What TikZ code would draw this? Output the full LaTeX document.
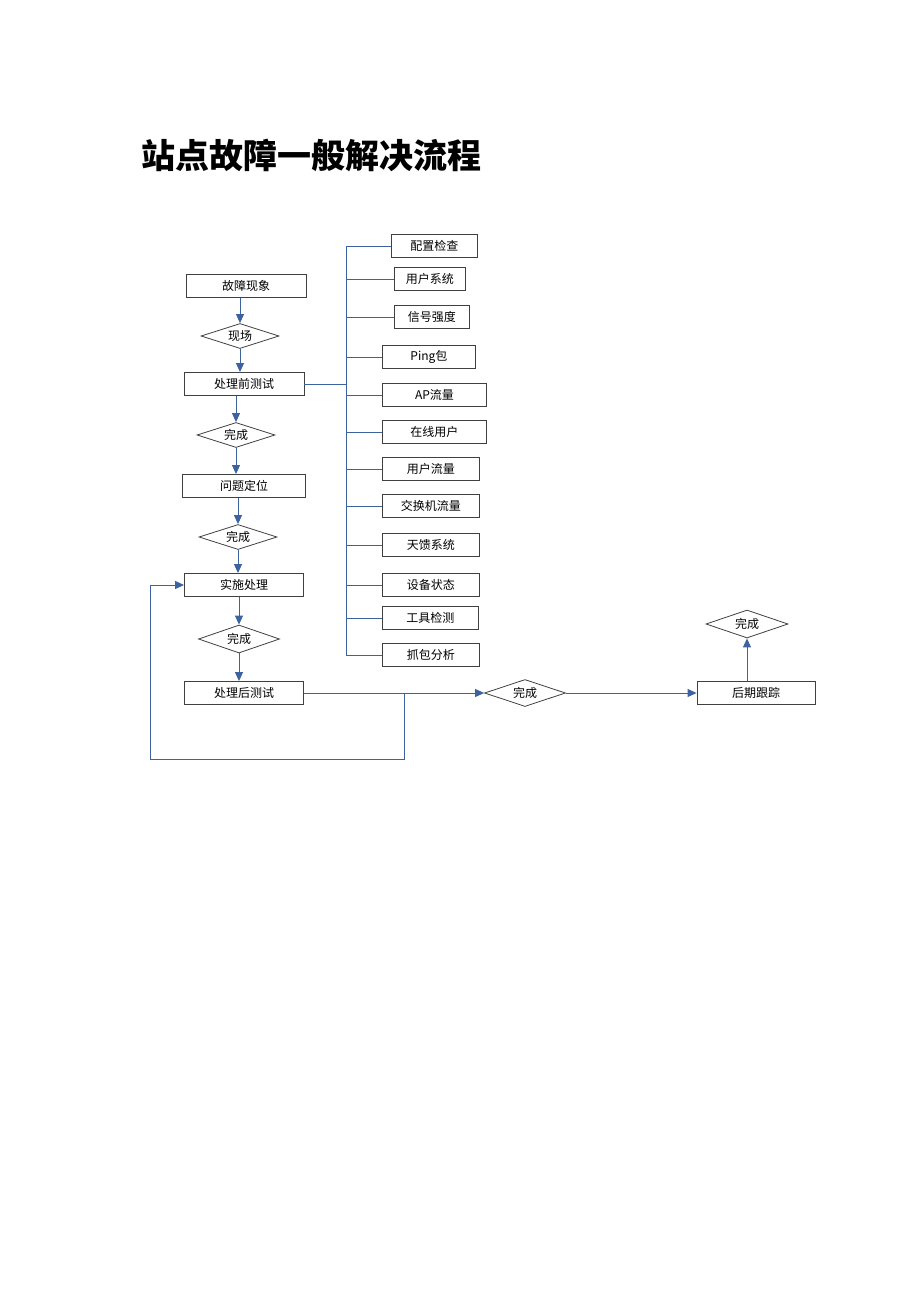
\documentclass[tikz,border=0pt]{standalone}
\usepackage{fontspec}
\setmainfont{Liberation Sans}
\newfontfamily\cjk{Noto Sans CJK SC}
\usetikzlibrary{arrows.meta,shapes.geometric}
\definecolor{linkblue}{HTML}{3D62A0}
\definecolor{edgegray}{HTML}{404040}

\begin{document}
\begin{tikzpicture}[x=1pt, y=-1pt,
    box/.style={draw=edgegray, line width=0.9pt, rectangle, minimum height=23pt, inner sep=0pt, font=\cjk\fontsize{12}{14}\selectfont},
    choice/.style={draw=edgegray, line width=0.8pt, diamond, aspect=3, minimum width=78pt, minimum height=25pt, inner sep=0pt, font=\cjk\fontsize{12}{14}\selectfont},
    link/.style={draw=linkblue, line width=0.9pt},
    flow/.style={link, -{Triangle[length=9pt, width=8pt]}}]
    \useasboundingbox (0,0) rectangle (920,1302);
    \node [anchor=west, font=\cjk\bfseries\fontsize{34}{40}\selectfont] (title) at (138,155) {站点故障一般解决流程};

    % main column
    \node [box, minimum width=120pt] (guzhang) at (246,286) {故障现象};
    \node [choice] (xianchang) at (240,336) {现场};
    \node [box, minimum width=120pt] (qiance) at (244,384) {处理前测试};
    \node [choice] (wancheng1) at (236,435) {完成};
    \node [box, minimum width=123pt] (dingwei) at (244,486) {问题定位};
    \node [choice] (wancheng2) at (238,537) {完成};
    \node [box, minimum width=119pt] (shishi) at (244,585) {实施处理};
    \node [choice, minimum width=81pt, minimum height=28pt] (wancheng3) at (239,639) {完成};
    \node [box, minimum width=119pt] (houce) at (244,693) {处理后测试};
    \node [choice, minimum width=81pt, minimum height=27pt] (wancheng4) at (525,693) {完成};
    \node [box, minimum width=118pt] (genzong) at (756,693) {后期跟踪};
    \node [choice, minimum width=82pt, minimum height=28pt] (wancheng5) at (747,624) {完成};

    % checks
    \node [box, minimum width=86pt, anchor=west] (peizhi) at (391,246) {配置检查};
    \node [box, minimum width=71pt, anchor=west] (yonghuxt) at (394,279) {用户系统};
    \node [box, minimum width=75pt, anchor=west] (xinhao) at (394,317) {信号强度};
    \node [box, minimum width=93pt, anchor=west] (ping) at (382,357) {Ping包};
    \node [box, minimum width=104pt, anchor=west] (apliu) at (382,395) {AP流量};
    \node [box, minimum width=104pt, anchor=west] (zaixian) at (382,432) {在线用户};
    \node [box, minimum width=97pt, anchor=west] (yonghull) at (382,469) {用户流量};
    \node [box, minimum width=97pt, anchor=west] (jiaohuan) at (382,506) {交换机流量};
    \node [box, minimum width=97pt, anchor=west] (tiankui) at (382,545) {天馈系统};
    \node [box, minimum width=97pt, anchor=west] (shebei) at (382,585) {设备状态};
    \node [box, minimum width=96pt, anchor=west] (gongju) at (382,618) {工具检测};
    \node [box, minimum width=97pt, anchor=west] (zhuabao) at (382,655) {抓包分析};

    % arrows down the main column
    \draw [flow] (guzhang.south -| xianchang) -- (xianchang.north);
    \draw [flow] (xianchang.south) -- (qiance.north -| xianchang);
    \draw [flow] (qiance.south -| wancheng1) -- (wancheng1.north);
    \draw [flow] (wancheng1.south) -- (dingwei.north -| wancheng1);
    \draw [flow] (dingwei.south -| wancheng2) -- (wancheng2.north);
    \draw [flow] (wancheng2.south) -- (shishi.north -| wancheng2);
    \draw [flow] (shishi.south -| wancheng3) -- (wancheng3.north);
    \draw [flow] (wancheng3.south) -- (houce.north -| wancheng3);
    \draw [flow] (houce.east) -- (wancheng4.west);
    \draw [flow] (wancheng4.east) -- (genzong.west);
    \draw [flow] (genzong.north -| wancheng5) -- (wancheng5.south);

    % loop back
    \coordinate (loopstart) at (404,693);
    \coordinate (loopcorner) at (150,759);
    \draw [flow] (loopstart) |- (loopcorner) |- (shishi.west);

    % bus to the checks
    \coordinate (bustop) at (346,246);
    \coordinate (busbot) at (346,655);
    \draw [link] (bustop) -- (busbot);
    \draw [link] (qiance.east) -- (qiance.east -| bustop);
    \foreach \check in {peizhi,yonghuxt,xinhao,ping,apliu,zaixian,yonghull,jiaohuan,tiankui,shebei,gongju,zhuabao}
      \draw [link] (\check.west -| bustop) -- (\check.west);
  \end{tikzpicture}
\end{document}
